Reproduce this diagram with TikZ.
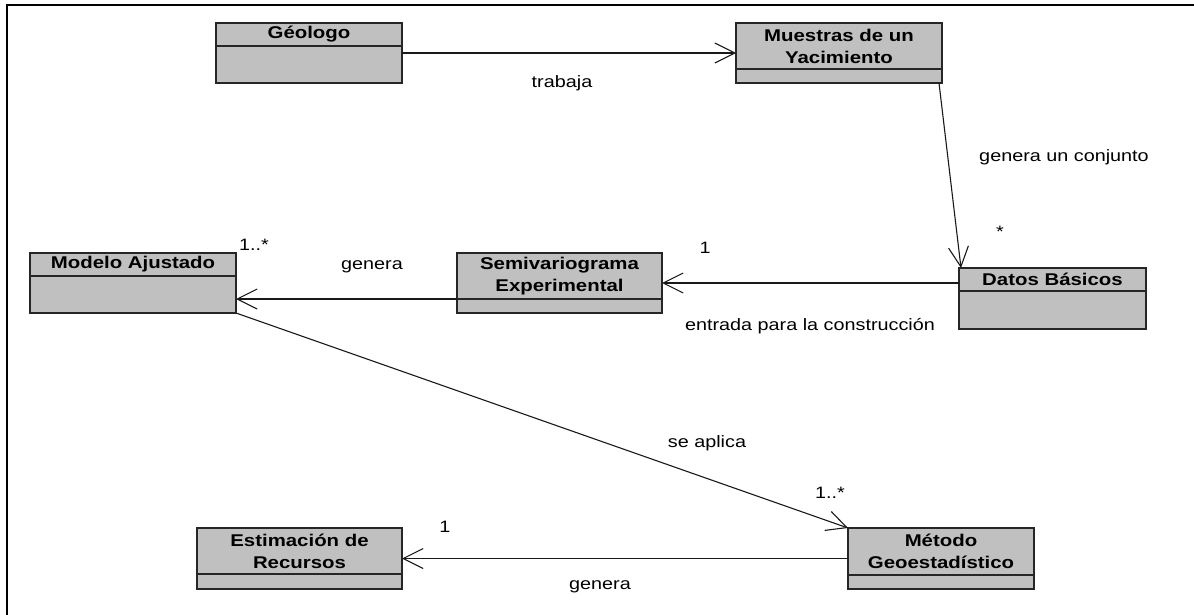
\documentclass[tikz,border=0pt]{standalone}
\usepackage{fontspec}
\setmainfont{Liberation Sans}
\newfontfamily\umlfont[FakeStretch=1.2]{Liberation Sans}
\usetikzlibrary{arrows.meta, positioning, calc}
\definecolor{classfill}{RGB}{192,192,192}
\definecolor{classline}{RGB}{38,38,38}
\definecolor{assocline}{RGB}{25,25,25}

\begin{document}
\begin{tikzpicture}[x=1pt, y=-1pt,
		classhead/.style 2 args={draw=classline, fill=classfill, line width=1.5pt, inner sep=0pt, outer sep=0pt,
			minimum width=#1, minimum height=#2, align=center,
			font=\umlfont\fontsize{17}{22}\selectfont\bfseries},
		classbody/.style 2 args={draw=classline, fill=classfill, line width=1.5pt, inner sep=0pt, outer sep=0pt,
			minimum width=#1, minimum height=#2},
		assoc/.style={draw=assocline, line width=1.1pt, -{Straight Barb[length=20pt, width=20pt]}},
		lbl/.style={font=\umlfont\fontsize{16.5}{18}\selectfont, inner sep=0pt},
		frame/.style={line width=2pt}]

	\useasboundingbox (0,0) rectangle (1194,615);
	\draw[frame] (7,615) -- (7,5) -- (1194,5);

	% classes
	\node[classhead={186pt}{23pt}, anchor=north west] (geo) at (216,23) {Géologo};
	\node[classbody={186pt}{37pt}, below=0pt of geo] (geo-b) {};

	\node[classhead={206pt}{46pt}, anchor=north west] (mue) at (736,23) {Muestras de un\\Yacimiento};
	\node[classbody={206pt}{14pt}, below=0pt of mue] (mue-b) {};

	\node[classhead={206pt}{23pt}, anchor=north west] (mod) at (30,253) {Modelo Ajustado};
	\node[classbody={206pt}{37pt}, below=0pt of mod] (mod-b) {};

	\node[classhead={205pt}{46pt}, anchor=north west] (semi) at (457,253) {Semivariograma\\Experimental};
	\node[classbody={205pt}{14pt}, below=0pt of semi] (semi-b) {};

	\node[classhead={187pt}{23pt}, anchor=north west] (dat) at (959,268) {Datos Básicos};
	\node[classbody={187pt}{38pt}, below=0pt of dat] (dat-b) {};

	\node[classhead={205pt}{46pt}, anchor=north west] (est) at (197,528) {Estimación de\\Recursos};
	\node[classbody={205pt}{15pt}, below=0pt of est] (est-b) {};

	\node[classhead={186pt}{47pt}, anchor=north west] (met) at (848,528) {Método\\Geoestadístico};
	\node[classbody={186pt}{14pt}, below=0pt of met] (met-b) {};

	% associations
	\draw[assoc] ($(geo.north east)!0.5!(geo-b.south east)$) -- ($(mue.north west)!0.5!(mue-b.south west)$);
	\draw[assoc] ([xshift=-3pt]mue-b.south east) -- ([xshift=2pt]dat.north west);
	\coordinate (semi-r) at ($(semi.north east)!0.5!(semi-b.south east)$);
	\draw[assoc] (semi-r -| dat.west) -- (semi-r);
	\draw[assoc] (semi-b.north west) -- (semi-b.north west -| mod.east);
	\draw[assoc] (mod-b.south east) -- (met.north west);
	\coordinate (met-l) at ($(met.north west)!0.5!(met-b.south west)$);
	\draw[assoc] (met-l) -- (met-l -| est.east);

	% labels
	\node[lbl] (trabaja) at (562,83) {trabaja};
	\node[lbl] (conjunto) at (1064,157) {genera un conjunto};
	\node[lbl] (mult-dat) at (1000,232) {*};
	\node[lbl] (mult-semi) at (705,248) {1};
	\node[lbl] (entrada) at (810,326) {entrada para la construcción};
	\node[lbl] (mult-mod) at (254,245) {1..*};
	\node[lbl] (genera-mod) at (372,267) {genera};
	\node[lbl] (aplica) at (707,443) {se aplica};
	\node[lbl] (mult-met) at (830,493) {1..*};
	\node[lbl] (mult-est) at (445,527) {1};
	\node[lbl] (genera-est) at (600,587) {genera};
\end{tikzpicture}
\end{document}
